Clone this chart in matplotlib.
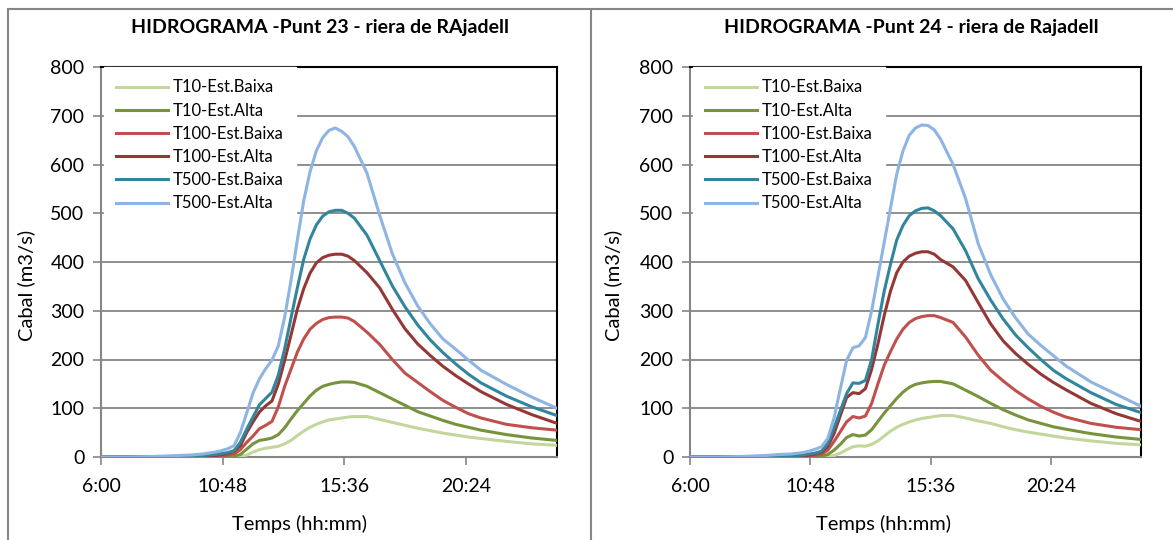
import matplotlib
matplotlib.use("Agg")
import matplotlib.pyplot as plt
from matplotlib.lines import Line2D

plt.rcParams['font.family'] = ['Lato', 'DejaVu Sans']

# time axis in hours (6:00 -> 24:00)
hours = [6, 7, 8, 9, 9.5, 10, 10.5, 10.75, 11, 11.25, 11.5, 11.75, 12, 12.25, 12.5, 12.75,
         13, 13.25, 13.5, 13.75, 14, 14.25, 14.5, 14.75, 15, 15.25, 15.5, 15.75, 16,
         16.5, 17, 17.5, 18, 18.5, 19, 19.5, 20, 20.5, 21, 22, 23, 24]

series_names = ["T10-Est.Baixa", "T10-Est.Alta", "T100-Est.Baixa", "T100-Est.Alta",
                "T500-Est.Baixa", "T500-Est.Alta"]
series_colors = ["#C3D69B", "#77933C", "#C0504D", "#953735", "#31859C", "#8EB4E3"]

# Punt 23
p23_t10_baixa = [0, 0, 0, 0, 0, 0, 0, 0, 0, 0, 1, 4, 10, 15, 18, 20, 22, 27, 34, 44,
                 53, 61, 67, 72, 76, 78, 80, 82, 83, 83, 77, 71, 65, 59, 54, 49, 45, 41, 38, 32, 27, 24]
p23_t10_alta = [0, 0, 0, 0, 0, 0, 0, 0, 1, 2, 5, 16, 27, 34, 36, 39, 46, 60, 78, 95,
                110, 125, 137, 145, 149, 152, 154, 154, 153, 145, 132, 119, 106, 93, 84, 75, 67, 61, 55, 46, 39, 34]
p23_t100_baixa = [0, 0, 0, 0, 0, 0, 1, 2, 4, 6, 15, 30, 43, 58, 65, 73, 103, 145, 180, 215,
                  242, 262, 274, 282, 286, 287, 287, 285, 278, 256, 231, 200, 172, 153, 134, 116, 102, 89, 80, 67, 60, 55]
p23_t100_alta = [0, 0, 0, 0, 0, 1, 3, 5, 7, 12, 23, 50, 72, 92, 105, 115, 150, 198, 250, 303,
                 345, 377, 398, 409, 414, 416, 416, 412, 403, 378, 347, 303, 263, 232, 208, 186, 167, 150, 134, 108, 87, 69]
p23_t500_baixa = [0, 0, 0, 1, 2, 3, 5, 7, 9, 13, 30, 57, 82, 107, 120, 133, 168, 222, 285, 347,
                  405, 447, 476, 494, 503, 506, 506, 500, 490, 455, 403, 351, 308, 271, 240, 214, 191, 170, 152, 125, 103, 85]
p23_t500_alta = [0, 0, 1, 3, 4, 6, 10, 13, 17, 23, 50, 90, 131, 160, 181, 199, 228, 287, 362, 445,
                 525, 585, 628, 655, 670, 675, 668, 657, 637, 582, 496, 417, 357, 310, 273, 242, 221, 199, 178, 149, 123, 100]

# Punt 24
p24_t10_baixa = [0, 0, 0, 0, 0, 0, 0, 0, 0, 0, 0, 3, 8, 15, 21, 23, 22, 26, 33, 43,
                 53, 61, 67, 72, 76, 79, 81, 83, 85, 85, 80, 74, 69, 62, 56, 51, 47, 43, 39, 33, 28, 25]
p24_t10_alta = [0, 0, 0, 0, 0, 0, 0, 0, 1, 2, 5, 14, 26, 40, 46, 43, 45, 56, 73, 90,
                105, 120, 133, 143, 149, 152, 154, 155, 155, 150, 137, 124, 110, 97, 86, 76, 69, 62, 57, 48, 41, 36]
p24_t100_baixa = [0, 0, 0, 0, 0, 0, 1, 2, 3, 6, 14, 32, 52, 72, 83, 80, 84, 110, 150, 188,
                  216, 242, 262, 276, 284, 288, 290, 290, 286, 276, 246, 209, 178, 156, 136, 119, 104, 92, 82, 69, 61, 56]
p24_t100_alta = [0, 0, 0, 0, 0, 1, 2, 4, 6, 10, 22, 48, 85, 122, 132, 130, 140, 180, 232, 290,
                 340, 378, 400, 412, 418, 421, 421, 416, 405, 390, 362, 317, 273, 238, 212, 190, 170, 153, 138, 110, 89, 73]
p24_t500_baixa = [0, 0, 0, 1, 1, 2, 4, 6, 8, 12, 28, 60, 95, 130, 152, 151, 157, 200, 272, 340,
                  395, 445, 475, 495, 505, 510, 511, 505, 495, 468, 423, 366, 322, 283, 250, 224, 200, 178, 161, 132, 108, 91]
p24_t500_alta = [0, 0, 1, 3, 5, 6, 9, 12, 16, 21, 38, 80, 140, 198, 224, 228, 245, 300, 370, 440,
                 510, 580, 628, 660, 675, 681, 680, 671, 652, 600, 530, 438, 374, 324, 285, 252, 229, 208, 187, 154, 129, 104]

x_ticks = [6, 10.8, 15.6, 20.4]
x_tick_labels = ["6:00", "10:48", "15:36", "20:24"]
y_ticks = [0, 100, 200, 300, 400, 500, 600, 700, 800]

W, H = 1173, 540
GRAY = "#868686"


def fx(px):
    return px / W


def fy(py):
    return 1 - py / H


fig = plt.figure(figsize=(W / 100, H / 100), dpi=100)

# panel borders
fig.add_artist(Line2D([fx(7.5), fx(7.5)], [fy(8.5), 0], color=GRAY, lw=1.5))
fig.add_artist(Line2D([fx(7.5), 1], [fy(8.5), fy(8.5)], color=GRAY, lw=1.5))
fig.add_artist(Line2D([fx(591), fx(591)], [fy(8.5), 0], color=GRAY, lw=1.5))


def draw_panel(left_px, right_px, data, title, title_x, ylab_x, xlab_x):
    ax = fig.add_axes([fx(left_px), fy(457), (right_px - left_px) / W, (457 - 67) / H])
    for vals, name, col in zip(data, series_names, series_colors):
        ax.plot(hours, vals, color=col, lw=2.2, label=name, solid_joinstyle="round", zorder=3)
    ax.set_xlim(6, 24)
    ax.set_ylim(0, 800)
    ax.set_xticks(x_ticks)
    ax.set_xticklabels(x_tick_labels)
    ax.set_yticks(y_ticks)
    ax.yaxis.grid(True, color=GRAY, lw=1.3, zorder=1)
    ax.set_axisbelow(True)
    ax.tick_params(axis="both", direction="out", length=6, width=1.2, color=GRAY,
                   labelsize=14)
    ax.tick_params(axis="x", pad=9)
    ax.tick_params(axis="y", pad=6)
    for s in ("left", "bottom"):
        ax.spines[s].set_color(GRAY)
        ax.spines[s].set_linewidth(1.5)
    for s in ("top", "right"):
        ax.spines[s].set_color("black")
        ax.spines[s].set_linewidth(1.5)
    leg = ax.legend(loc="upper left", bbox_to_anchor=(2.5 / (right_px - left_px), 1),
                    borderaxespad=0, borderpad=0.75, fontsize=12, frameon=True,
                    fancybox=False, edgecolor="white", framealpha=1,
                    handlelength=3.1, handletextpad=0.3, labelspacing=0.43)
    leg.set_zorder(5)
    fig.text(fx(title_x), fy(27), title, ha="center", va="center",
             fontsize=14, fontweight="bold")
    fig.text(fx(ylab_x), fy(285), "Cabal (m3/s)", ha="center", va="center",
             rotation=90, fontsize=14.5)
    fig.text(fx(xlab_x), fy(524), "Temps (hh:mm)", ha="center", va="center",
             fontsize=14.5)
    return ax


draw_panel(101, 557,
           [p23_t10_baixa, p23_t10_alta, p23_t100_baixa, p23_t100_alta, p23_t500_baixa, p23_t500_alta],
           "HIDROGRAMA -Punt 23 - riera de RAjadell", 320, 26, 299)
draw_panel(690, 1141,
           [p24_t10_baixa, p24_t10_alta, p24_t100_baixa, p24_t100_alta, p24_t500_baixa, p24_t500_alta],
           "HIDROGRAMA -Punt 24 - riera de Rajadell", 911, 613, 884)

fig.savefig("out.png", dpi=100, facecolor="white")
